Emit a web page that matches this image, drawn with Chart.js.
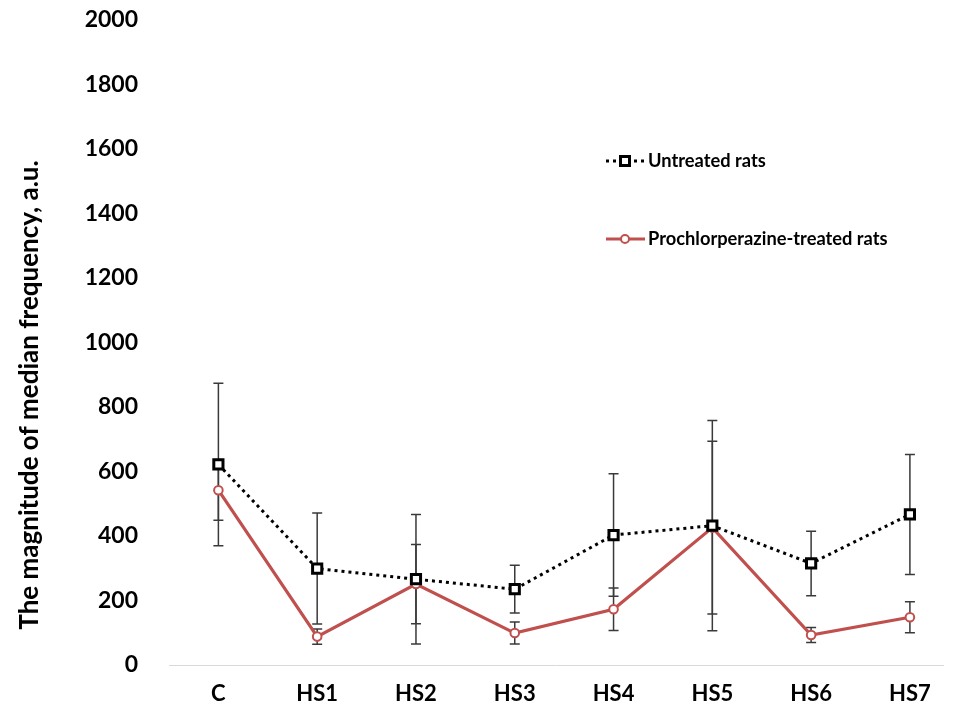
<!DOCTYPE html>
<html>
<head>
<meta charset="utf-8">
<script src="https://cdn.jsdelivr.net/npm/chart.js@4.4.1/dist/chart.umd.min.js"></script>
<style>
  html, body { margin: 0; padding: 0; background: #fff; }
  #wrap { position: relative; width: 953px; height: 711px; }
</style>
</head>
<body>
<div id="wrap"><canvas id="c"></canvas></div>
<script>
// ---- data ----
const categories = ["C", "HS1", "HS2", "HS3", "HS4", "HS5", "HS6", "HS7"];
const untreated = [622, 299, 266, 235, 403, 432, 315, 467];
const untreatedErr = [252, 172, 201, 74, 190, 326, 100, 186];
const treated = [542, 88, 251, 99, 173, 426, 93, 148];
const treatedErr = [93, 24, 123, 34, 66, 268, 23, 48];
const yTicks = [0, 200, 400, 600, 800, 1000, 1200, 1400, 1600, 1800, 2000];
const seriesNames = ["Untreated rats", "Prochlorperazine-treated rats"];
const yTitle = "The magnitude of median frequency, a.u.";

const RED = "#C0504D";
const FONT = "Lato, 'Open Sans', sans-serif";

const toPts = arr => arr.map((v, i) => ({ x: i, y: v }));

const errorBars = {
  id: "errorBars",
  beforeDatasetsDraw(chart) {
    const ctx = chart.ctx;
    const xs = chart.scales.x, ys = chart.scales.y;
    const sets = [[untreated, untreatedErr], [treated, treatedErr]];
    ctx.save();
    ctx.strokeStyle = "#3a3a3a";
    ctx.lineWidth = 1.5;
    sets.forEach(([vals, errs]) => {
      vals.forEach((v, i) => {
        const x = xs.getPixelForValue(i);
        const yt = ys.getPixelForValue(v + errs[i]);
        const yb = ys.getPixelForValue(Math.max(0, v - errs[i]));
        ctx.beginPath();
        ctx.moveTo(x, yt); ctx.lineTo(x, yb);
        ctx.moveTo(x - 5, yt); ctx.lineTo(x + 5, yt);
        ctx.moveTo(x - 5, yb); ctx.lineTo(x + 5, yb);
        ctx.stroke();
      });
    });
    ctx.restore();
  }
};

const extras = {
  id: "extras",
  afterDraw(chart) {
    const ctx = chart.ctx;
    ctx.save();
    // y-axis title
    ctx.font = "bold 26px " + FONT;
    ctx.fillStyle = "#000";
    ctx.textAlign = "center";
    ctx.textBaseline = "middle";
    ctx.translate(30, 395);
    ctx.rotate(-Math.PI / 2);
    ctx.fillText(yTitle, 0, 0);
    ctx.restore();

    // legend
    ctx.save();
    const lx0 = 606, lx1 = 645, mx = 625, tx = 648;
    const rows = [161, 239];
    ctx.strokeStyle = "#000";
    ctx.lineWidth = 3;
    ctx.setLineDash([3, 4]);
    ctx.beginPath(); ctx.moveTo(lx0, rows[0]); ctx.lineTo(lx1, rows[0]); ctx.stroke();
    ctx.setLineDash([]);
    ctx.fillStyle = "#fff";
    ctx.fillRect(mx - 4.5, rows[0] - 4.5, 9, 9);
    ctx.strokeRect(mx - 4.5, rows[0] - 4.5, 9, 9);
    ctx.strokeStyle = RED;
    ctx.lineWidth = 3;
    ctx.beginPath(); ctx.moveTo(lx0, rows[1]); ctx.lineTo(lx1, rows[1]); ctx.stroke();
    ctx.lineWidth = 2;
    ctx.beginPath(); ctx.arc(mx, rows[1], 4, 0, Math.PI * 2); ctx.fillStyle = "#fff"; ctx.fill(); ctx.stroke();
    ctx.fillStyle = "#000";
    ctx.font = "bold 18.3px " + FONT;
    ctx.textAlign = "left";
    ctx.textBaseline = "middle";
    ctx.fillText(seriesNames[0], tx, rows[0]);
    ctx.fillText(seriesNames[1], tx, rows[1]);
    ctx.restore();
  }
};

new Chart(document.getElementById("c"), {
  type: "line",
  data: {
    datasets: [
      {
        label: seriesNames[0],
        data: toPts(untreated),
        borderColor: "#000",
        borderWidth: 3,
        borderDash: [3, 4],
        pointStyle: "rect",
        pointRadius: 6.5,
        pointBorderWidth: 3,
        pointBorderColor: "#000",
        pointBackgroundColor: "#fff",
        tension: 0
      },
      {
        label: seriesNames[1],
        data: toPts(treated),
        borderColor: RED,
        borderWidth: 3.2,
        pointStyle: "circle",
        pointRadius: 4.3,
        pointBorderWidth: 2,
        pointBorderColor: RED,
        pointBackgroundColor: "#fff",
        tension: 0
      }
    ]
  },
  options: {
    responsive: true,
    maintainAspectRatio: false,
    animation: false,
    layout: { padding: { top: 20, right: 0, left: 0, bottom: 0 } },
    plugins: { legend: { display: false }, tooltip: { enabled: false } },
    scales: {
      x: {
        type: "linear",
        min: -0.5,
        max: 7.34,
        grid: { display: false, drawTicks: false },
        border: { display: true, color: "#d9d9d9", width: 1 },
        afterBuildTicks: s => { s.ticks = categories.map((c, i) => ({ value: i })); },
        afterFit: s => { s.height = 46; s.paddingLeft = 0; s.paddingRight = 0; },
        ticks: {
          autoSkip: false,
          maxRotation: 0,
          padding: 16,
          color: "#000",
          font: { family: FONT, size: 22, weight: "bold" },
          callback: v => categories[v] ?? ""
        }
      },
      y: {
        min: 0,
        max: 2000,
        grid: { display: false, drawTicks: false },
        border: { display: false },
        afterBuildTicks: s => { s.ticks = yTicks.map(v => ({ value: v })); },
        afterFit: s => { s.width = 169; s.paddingTop = 0; s.paddingBottom = 0; },
        ticks: {
          padding: 31,
          color: "#000",
          font: { family: FONT, size: 23, weight: "bold" },
          callback: v => String(v)
        }
      }
    }
  },
  plugins: [errorBars, extras]
});
</script>
</body>
</html>
